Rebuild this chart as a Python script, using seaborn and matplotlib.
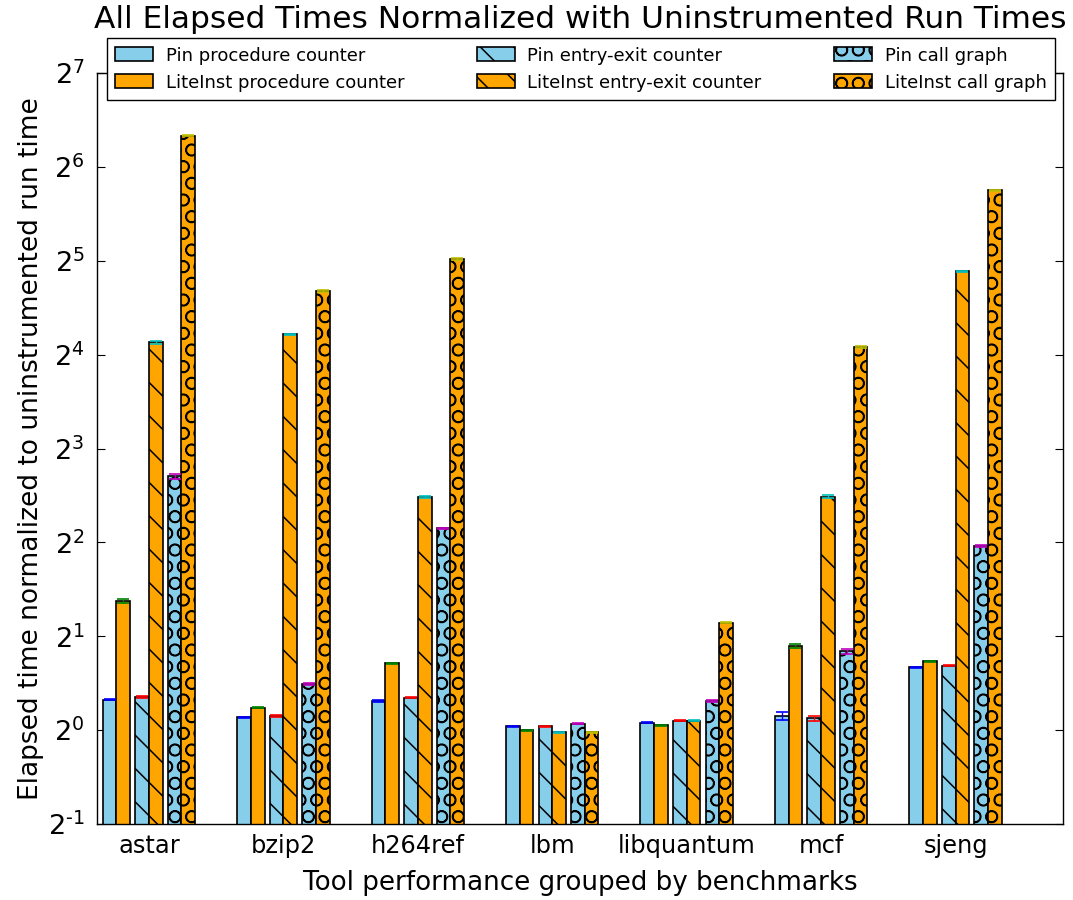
import numpy as np
import matplotlib
matplotlib.use("Agg")
import matplotlib.pyplot as plt
from matplotlib.ticker import FuncFormatter
import seaborn as sns

# benchmarks and series (normalized run times)
benchmarks = ["astar", "bzip2", "h264ref", "lbm", "libquantum", "mcf", "sjeng"]
series_names = ["Pin procedure counter", "LiteInst procedure counter",
                "Pin entry-exit counter", "LiteInst entry-exit counter",
                "Pin call graph", "LiteInst call graph"]

pin_proc = [1.25, 1.10, 1.24, 1.03, 1.055, 1.11, 1.59]
lite_proc = [2.59, 1.18, 1.64, 1.00, 1.037, 1.86, 1.66]
pin_ee = [1.28, 1.11, 1.27, 1.03, 1.07, 1.09, 1.61]
lite_ee = [17.5, 18.6, 5.6, 0.985, 1.07, 5.61, 29.6]
pin_cg = [6.51, 1.41, 4.44, 1.05, 1.24, 1.79, 3.89]
lite_cg = [80.5, 25.6, 32.4, 0.985, 2.21, 16.9, 53.9]

# standard deviations
pin_proc_err = [0.005, 0.005, 0.005, 0.004, 0.004, 0.03, 0.005]
lite_proc_err = [0.04, 0.006, 0.006, 0.004, 0.004, 0.03, 0.006]
pin_ee_err = [0.01, 0.005, 0.005, 0.004, 0.004, 0.02, 0.005]
lite_ee_err = [0.15, 0.1, 0.04, 0.004, 0.004, 0.07, 0.1]
pin_cg_err = [0.12, 0.01, 0.02, 0.005, 0.005, 0.03, 0.02]
lite_cg_err = [0.3, 0.15, 0.15, 0.004, 0.01, 0.1, 0.2]

values = [pin_proc, lite_proc, pin_ee, lite_ee, pin_cg, lite_cg]
errors = [pin_proc_err, lite_proc_err, pin_ee_err, lite_ee_err, pin_cg_err, lite_cg_err]
colors = ["skyblue", "orange"] * 3
hatches = ["", "", "\\", "\\", "O", "O"]
# classic matplotlib b, g, r, c, m, y
err_colors = [(0, 0, 1), (0, 0.5, 0), (1, 0, 0), (0, 0.75, 0.75), (0.75, 0, 0.75), (0.75, 0.75, 0)]

sns.set_theme(style="white")
plt.rcParams["font.family"] = ["DejaVu Sans"]
plt.rcParams["hatch.linewidth"] = 1.1
plt.rcParams["mathtext.default"] = "regular"
for key in ["text.color", "axes.labelcolor", "xtick.color", "ytick.color"]:
    plt.rcParams[key] = "black"

fig, ax = plt.subplots(figsize=(10.73, 9), dpi=100)
fig.subplots_adjust(left=97 / 1073, right=1063 / 1073, top=1 - 73 / 900, bottom=1 - 824 / 900)

w = 0.102
pair = 0.242
offsets = [0, w, pair, pair + w, 2 * pair, 2 * pair + w]
ind = np.arange(len(benchmarks))

for k in range(6):
    ax.bar(ind + offsets[k], values[k], w, align="edge", color=colors[k],
           edgecolor="black", linewidth=1.2, hatch=hatches[k], label=series_names[k],
           yerr=errors[k],
           error_kw=dict(ecolor=err_colors[k], capsize=4, elinewidth=1, capthick=1.2))

ax.set_yscale("log", base=2)
ax.set_ylim(0.5, 128)
ax.set_xlim(-0.042, 7.143)
ax.set_xticks(ind + (2 * pair + 2 * w) / 2)
ax.set_xticklabels(benchmarks)


def pow2_label(v, pos):
    e = int(round(np.log2(v)))
    exp = r"\text{-}%d" % -e if e < 0 else "%d" % e
    return r"$2^{%s}$" % exp


ax.yaxis.set_major_formatter(FuncFormatter(pow2_label))

ax.tick_params(axis="x", length=0, labelsize=17.4, pad=7)
ax.tick_params(axis="y", which="major", direction="in", length=6, width=0.8,
               left=True, right=True, labelsize=19.5, pad=9)
ax.tick_params(axis="y", which="minor", left=False, right=False)
for s in ax.spines.values():
    s.set_color("black")
    s.set_linewidth(1)

ax.set_xlabel("Tool performance grouped by benchmarks", fontsize=18.8, labelpad=9)
ax.set_ylabel("Elapsed time normalized to uninstrumented run time", fontsize=19, labelpad=3)
ax.set_title("All Elapsed Times Normalized with Uninstrumented Run Times",
             fontsize=22.5, y=1.06, pad=0)

leg = ax.legend(loc="center", bbox_to_anchor=(0.0104, 0.9653, 0.981, 0.08), mode="expand",
                borderaxespad=0, ncol=3, fontsize=13, frameon=True, fancybox=False,
                framealpha=1, edgecolor="black", handlelength=2.1, handleheight=0.8,
                handletextpad=0.7, labelspacing=0.5, borderpad=0.45)
leg.get_frame().set_linewidth(1)

fig.savefig("out.png", dpi=100)
